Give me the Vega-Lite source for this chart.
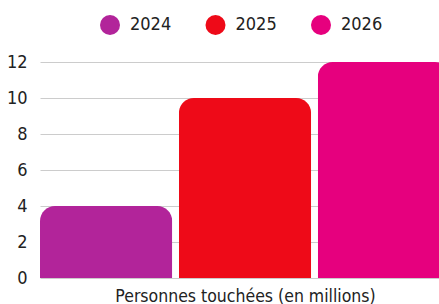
{
  "$schema": "https://vega.github.io/schema/vega-lite/v6.json",
  "autosize": "none",
  "width": 399,
  "height": 216,
  "padding": {"left": 40, "top": 62, "right": 0, "bottom": 26},
  "background": "white",
  "config": {
    "font": "DejaVu Sans Condensed, Roboto, sans-serif",
    "view": {"stroke": null}
  },
  "data": {
    "values": [
      {"annee": "2024", "valeur": 4},
      {"annee": "2025", "valeur": 10},
      {"annee": "2026", "valeur": 12}
    ]
  },
  "mark": {"type": "bar", "cornerRadiusTopLeft": 15, "cornerRadiusTopRight": 15},
  "encoding": {
    "x": {
      "field": "annee",
      "type": "nominal",
      "scale": {"range": [0, 410], "paddingInner": 0.048, "paddingOuter": 0},
      "axis": {
        "title": "Personnes touchées (en millions)",
        "labels": false,
        "ticks": false,
        "domain": false,
        "titleFontSize": 17.5,
        "titleFontWeight": "normal",
        "titleColor": "#222222",
        "titleBaseline": "alphabetic",
        "titlePadding": 23
      }
    },
    "y": {
      "field": "valeur",
      "type": "quantitative",
      "scale": {"domain": [0, 12]},
      "axis": {
        "title": null,
        "values": [0, 2, 4, 6, 8, 10, 12],
        "ticks": false,
        "tickSize": 0,
        "domain": false,
        "labelPadding": 13,
        "labelFontSize": 18,
        "labelColor": "#222222",
        "gridColor": "#cccccc",
        "gridWidth": 1
      }
    },
    "color": {
      "field": "annee",
      "type": "nominal",
      "scale": {"domain": ["2024", "2025", "2026"], "range": ["#b2249a", "#ee0a18", "#e6007e"]},
      "legend": {
        "title": null,
        "orient": "none",
        "direction": "horizontal",
        "legendX": 60,
        "legendY": -47,
        "symbolType": "circle",
        "symbolSize": 400,
        "symbolStrokeWidth": 0,
        "symbolOpacity": 1,
        "labelFontSize": 18,
        "labelColor": "#222222",
        "labelOffset": 10,
        "columnPadding": 33.5
      }
    }
  }
}
